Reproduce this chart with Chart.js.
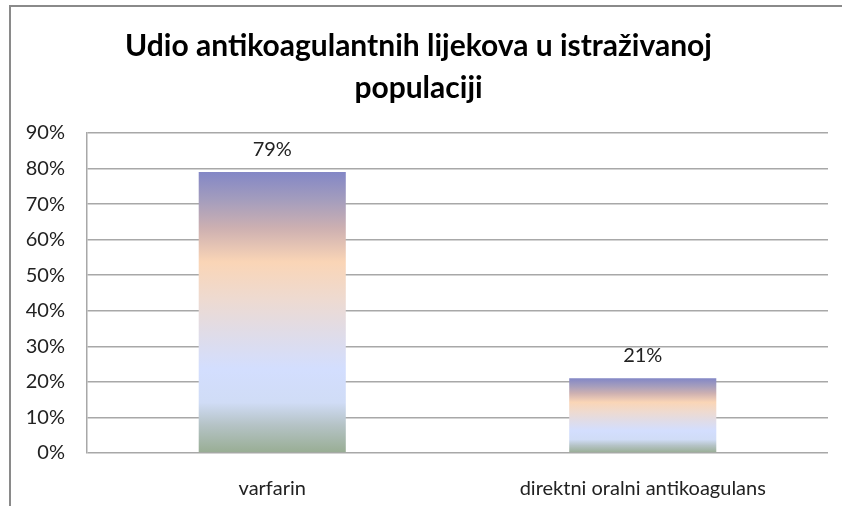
<!DOCTYPE html>
<html>
<head>
<meta charset="utf-8">
<script src="https://cdn.jsdelivr.net/npm/chart.js@4/dist/chart.umd.min.js"></script>
<style>
  html,body{margin:0;padding:0;background:#fff}
  #wrap{width:842px;height:506px;position:relative}
</style>
</head>
<body>
<div id="wrap"><canvas id="c" width="842" height="506"></canvas></div>
<script>
const categories = ['varfarin', 'direktni oralni antikoagulans'];
const shares = [79, 21];
const yMax = 90, yStep = 10;
const titleLines = ['Udio antikoagulantnih lijekova u istraživanoj', 'populaciji'];

// bar fill, top -> bottom
const fillStops = [
  [0.00, '#8387c6'], [0.10, '#a49dbd'], [0.20, '#cdb0b1'], [0.32, '#fad5b6'],
  [0.45, '#eedad0'], [0.58, '#dfdce9'], [0.70, '#d3defe'], [0.82, '#d0dcf6'],
  [0.90, '#b5c3c6'], [1.00, '#98ad93']
];

const FONT = 'Lato, "Liberation Sans", sans-serif';
const GRID = '#a8a8a8';

function barFill(c) {
  const chart = c.chart;
  if (!chart.chartArea || c.type !== 'data') return fillStops[3][1];
  const y = chart.scales.y;
  const top = y.getPixelForValue(c.raw), bot = y.getPixelForValue(0);
  const g = chart.ctx.createLinearGradient(0, top, 0, bot);
  fillStops.forEach(s => g.addColorStop(s[0], s[1]));
  return g;
}

const frame = {
  id: 'frame',
  beforeDraw(chart) {
    const ctx = chart.ctx;
    ctx.save();
    ctx.strokeStyle = '#8a8a8a'; ctx.lineWidth = 2;
    ctx.beginPath(); ctx.moveTo(10, 506); ctx.lineTo(10, 6); ctx.lineTo(842, 6); ctx.stroke();
    ctx.restore();
  }
};

const valueLabels = {
  id: 'valueLabels',
  afterDatasetsDraw(chart) {
    const ctx = chart.ctx;
    ctx.save();
    ctx.font = '20px ' + FONT; ctx.fillStyle = '#222';
    ctx.textAlign = 'center'; ctx.textBaseline = 'alphabetic';
    chart.getDatasetMeta(0).data.forEach((el, i) => {
      ctx.fillText(shares[i] + '%', el.x, el.y - 16);
    });
    ctx.restore();
  }
};

new Chart(document.getElementById('c'), {
  type: 'bar',
  data: {
    labels: categories,
    datasets: [{ data: shares, backgroundColor: barFill, borderWidth: 0,
      barPercentage: 0.397, categoryPercentage: 1 }]
  },
  options: {
    responsive: false, animation: false,
    layout: { padding: { left: 9, right: 14, top: 0, bottom: 0 } },
    plugins: {
      legend: { display: false }, tooltip: { enabled: false },
      title: { display: true, text: titleLines, color: '#000',
        font: { family: FONT, size: 30, weight: 'bold', lineHeight: 1.4 },
        padding: { top: 25, bottom: 24 } }
    },
    scales: {
      x: {
        grid: { display: false }, border: { display: false },
        ticks: { color: '#222', font: { family: FONT, size: 20 }, padding: 16 },
        afterFit(s) { s.height = 53; }
      },
      y: {
        min: 0, max: yMax,
        grid: { color: GRID, lineWidth: 1.5, drawTicks: false },
        border: { display: true, color: GRID, width: 1.5 },
        ticks: { stepSize: yStep, color: '#222', padding: 22,
          font: { family: FONT, size: 20 }, callback: v => v + '%' },
        afterFit(s) { s.width = 78; }
      }
    }
  },
  plugins: [frame, valueLabels]
});
</script>
</body>
</html>
